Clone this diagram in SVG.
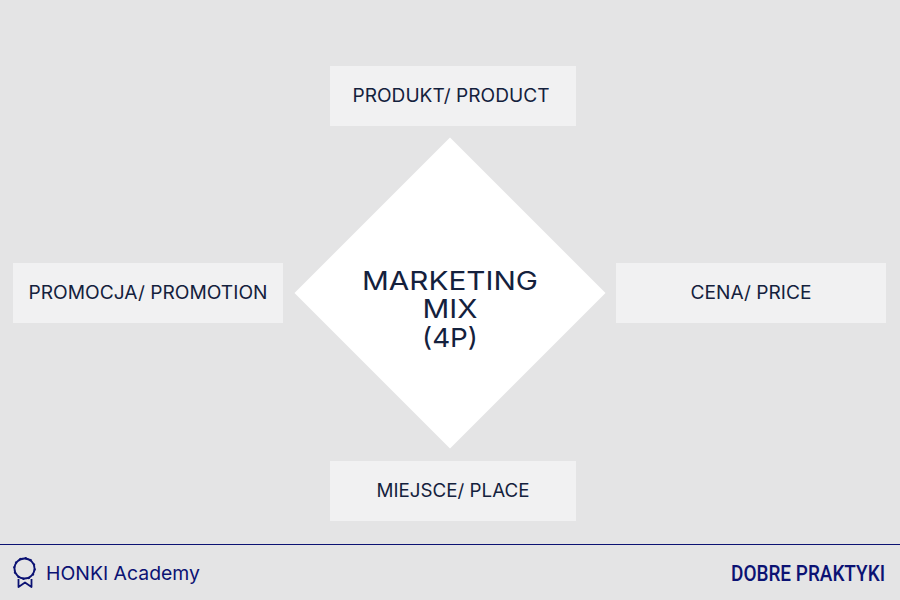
<svg xmlns="http://www.w3.org/2000/svg" width="900" height="600" viewBox="0 0 900 600">
<style>
.box{fill:#f1f1f2}
.t{font-family:"Inter","Open Sans","Liberation Sans",sans-serif;fill:#14213d;text-anchor:middle}
.lab{font-size:18px}
.big{font-size:26px}
.navy{stroke:#0b1273;fill:none}
</style>
<rect width="900" height="600" fill="#e4e4e5"/>
<g id="center">
<polygon points="450,137.500 605.500,293 450,448.500 294.500,293" fill="#fff"/>
<text class="t big" x="450" y="290" textLength="176" lengthAdjust="spacingAndGlyphs">MARKETING</text>
<text class="t big" x="450" y="318" textLength="55" lengthAdjust="spacingAndGlyphs">MIX</text>
<text class="t big" x="450" y="347" textLength="56" lengthAdjust="spacingAndGlyphs">(4P)</text>
</g>
<g id="product">
<rect class="box" x="330" y="66" width="246" height="60"/>
<text class="t lab" x="451" y="102" textLength="197" lengthAdjust="spacingAndGlyphs">PRODUKT/ PRODUCT</text>
</g>
<g id="promotion">
<rect class="box" x="13" y="263" width="270" height="60"/>
<text class="t lab" x="148" y="299" textLength="239" lengthAdjust="spacingAndGlyphs">PROMOCJA/ PROMOTION</text>
</g>
<g id="price">
<rect class="box" x="616" y="263" width="270" height="60"/>
<text class="t lab" x="751" y="299" textLength="121" lengthAdjust="spacingAndGlyphs">CENA/ PRICE</text>
</g>
<g id="place">
<rect class="box" x="330" y="461" width="246" height="60"/>
<text class="t lab" x="453" y="497" textLength="153" lengthAdjust="spacingAndGlyphs">MIEJSCE/ PLACE</text>
</g>
<g id="footer">
<line x1="0" y1="544.500" x2="900" y2="544.500" stroke="#0b1273" stroke-width="1"/>
<g id="badge" class="navy">
<circle cx="24.500" cy="568.500" r="10" stroke-width="1.800"/>
<circle cx="24.500" cy="568.500" r="10.800" stroke-width="1.200" stroke-dasharray="2 3.650"/>
<path d="M18.500 579V587L25 582.500L31.500 587V579" stroke-width="1.800" stroke-linejoin="round"/>
</g>
<text x="46" y="580" font-family="Inter,'Open Sans',sans-serif" font-size="19" fill="#0b1273" textLength="154" lengthAdjust="spacingAndGlyphs">HONKI Academy</text>
<text transform="translate(885 581) scale(1 1.130)" x="0" y="0" text-anchor="end" font-family="Roboto,'Liberation Sans',sans-serif" font-weight="500" font-size="19.500" fill="#0b1273" textLength="154" lengthAdjust="spacingAndGlyphs">DOBRE PRAKTYKI</text>
</g>
</svg>
